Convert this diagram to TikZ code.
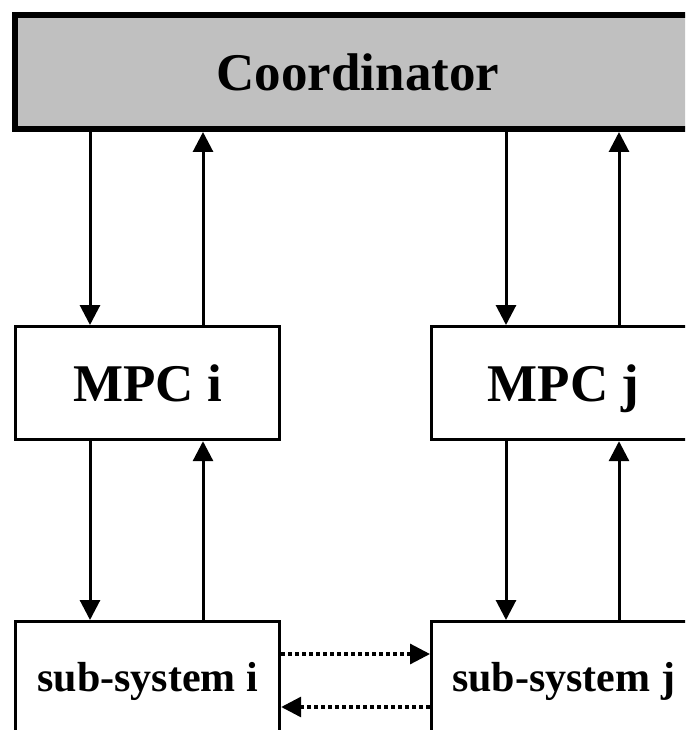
\documentclass[tikz,border=0pt]{standalone}
\usepackage{fontspec}
\setmainfont{Liberation Serif}
\usetikzlibrary{arrows.meta}

\definecolor{coordgray}{RGB}{192,192,192}

\tikzset{
  block/.style={draw=black, line width=3.2pt, fill=white, anchor=north west,
    inner sep=0pt, minimum width=264pt, minimum height=113pt, font=\bfseries},
  bigtext/.style={font=\fontsize{53}{60}\selectfont\bfseries, text depth=0pt},
  smalltext/.style={font=\fontsize{42}{50}\selectfont\bfseries},
  link/.style={line width=3pt, -{Triangle[width=20pt,length=20pt]}},
  msg/.style={line width=3.2pt, dash pattern=on 4pt off 3pt,
    -{Triangle[width=20pt,length=20pt]}}
}

\begin{document}
\begin{tikzpicture}[x=1pt, y=-1pt]
  \useasboundingbox (0,0) rectangle (685,730);
  \clip (0,0) rectangle (685,730);

  % coordinator on top
  \node[block, bigtext, fill=coordgray, line width=6pt,
        minimum width=686pt, minimum height=114pt] (coord) at (12,12) {Coordinator};

  % local controllers
  \node[block, bigtext] (mpci) at (14,325) {MPC i};
  \node[block, bigtext] (mpcj) at (430,325) {MPC j};

  % plants
  \node[block, smalltext, minimum height=120pt] (subi) at (14,620) {sub-system i};
  \node[block, smalltext, minimum height=120pt] (subj) at (430,620) {sub-system j};

  % columns of the vertical links
  \coordinate (ai) at (90,0);
  \coordinate (bi) at (203,0);
  \coordinate (aj) at (506,0);
  \coordinate (bj) at (619,0);
  % rows of the exchange between the plants
  \coordinate (ytop) at (0,654);
  \coordinate (ybot) at (0,707);

  % coordinator <-> MPC
  \draw[link] (coord.south -| ai) -- (mpci.north -| ai);
  \draw[link] (mpci.north -| bi) -- (coord.south -| bi);
  \draw[link] (coord.south -| aj) -- (mpcj.north -| aj);
  \draw[link] (mpcj.north -| bj) -- (coord.south -| bj);

  % MPC <-> sub-system
  \draw[link] (mpci.south -| ai) -- (subi.north -| ai);
  \draw[link] (subi.north -| bi) -- (mpci.south -| bi);
  \draw[link] (mpcj.south -| aj) -- (subj.north -| aj);
  \draw[link] (subj.north -| bj) -- (mpcj.south -| bj);

  % interaction between the sub-systems
  \draw[msg] (subi.east |- ytop) -- (subj.west |- ytop);
  \draw[msg] (subj.west |- ybot) -- (subi.east |- ybot);
\end{tikzpicture}
\end{document}
